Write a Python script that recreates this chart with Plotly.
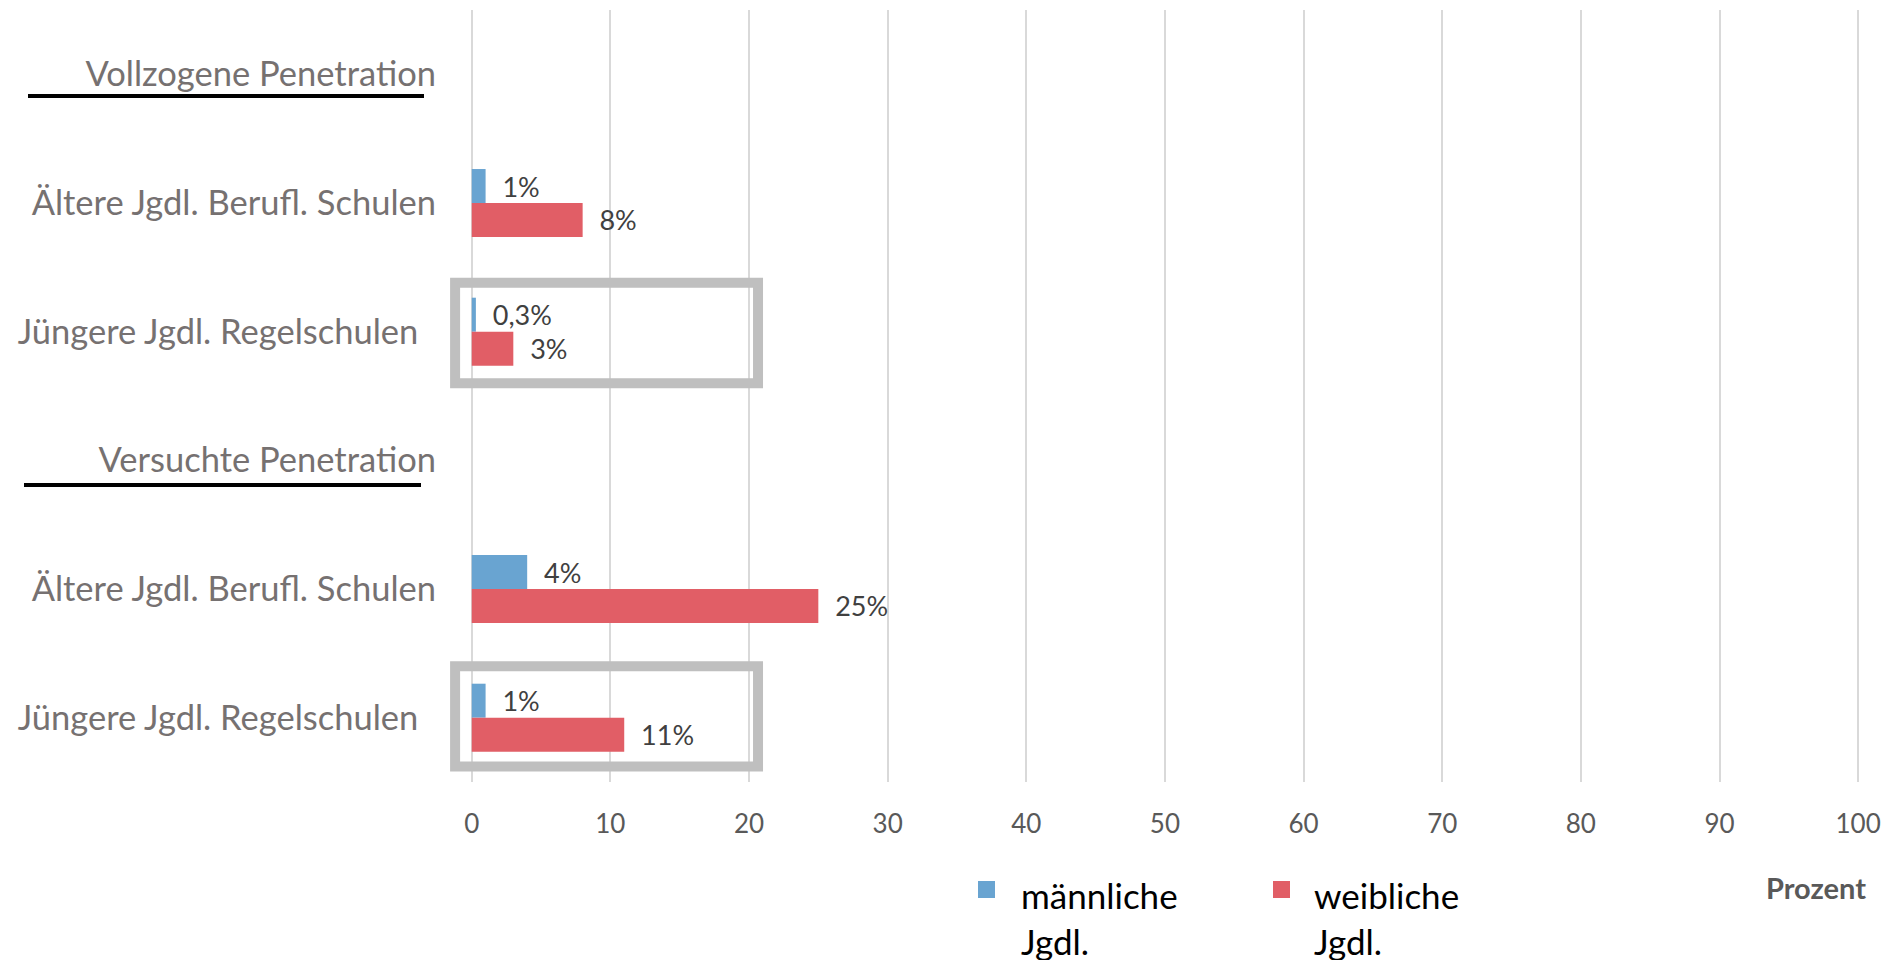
import plotly.graph_objects as go

# Row layout (top to bottom): section header, then two school groups per section
row_labels = [
    "Vollzogene Penetration",
    "Ältere Jgdl. Berufl. Schulen",
    "Jüngere Jgdl. Regelschulen",
    "Versuchte Penetration",
    "Ältere Jgdl. Berufl. Schulen",
    "Jüngere Jgdl. Regelschulen",
]
row_pos = [0, 1, 2, 3, 4, 5]

male_values = [None, 1, 0.3, None, 4, 1]
female_values = [None, 8, 3, None, 25, 11]
male_text = ["", "1%", "0,3%", "", "4%", "1%"]
female_text = ["", "8%", "3%", "", "25%", "11%"]

series_names = ["männliche<br>Jgdl.", "weibliche<br>Jgdl."]
series_colors = ["#69A4D1", "#E15E66"]
x_ticks = [0, 10, 20, 30, 40, 50, 60, 70, 80, 90, 100]
x_title = "Prozent"

FONT = "Lato, 'Open Sans', sans-serif"
NB = "\u00a0"

W, H = 1901, 960
ML, MR, MT, MB = 444, 29, 10, 178
PW, PH = W - ML - MR, H - MT - MB


def px(x):
    return (x - ML) / PW


def py(y):
    return (H - MB - y) / PH


def pad(labels):
    return [(NB * 2 + t) if t else "" for t in labels]


fig = go.Figure()
for vals, txt, color in [(male_values, male_text, series_colors[0]),
                         (female_values, female_text, series_colors[1])]:
    fig.add_trace(go.Bar(
        x=vals, y=row_pos, orientation="h",
        marker=dict(color=color, line=dict(width=0)),
        text=pad(txt), textposition="outside", cliponaxis=False,
        constraintext="none",
        textfont=dict(family=FONT, size=27, color="#404040"),
        showlegend=False, hoverinfo="skip",
    ))

# tick labels; the younger-pupil rows sit slightly further from the axis
tick_text = [lbl + (NB * 2 if lbl.startswith("Jüngere") else "") for lbl in row_labels]

shapes = []
# underline beneath each section header
for x0, x1, y in [(28, 424, 96), (24, 421, 485)]:
    shapes.append(dict(type="line", xref="paper", yref="paper",
                       x0=px(x0), x1=px(x1), y0=py(y), y1=py(y),
                       line=dict(color="black", width=4)))
# grey frames around the younger-pupil rows
for y0, y1 in [(1.62, 2.40), (4.60, 5.38)]:
    shapes.append(dict(type="rect", xref="x", yref="y",
                       x0=-1.2, x1=20.65, y0=y0, y1=y1,
                       line=dict(color="#BFBFBF", width=10),
                       fillcolor="rgba(0,0,0,0)", layer="above"))

annotations = []
# legend: coloured squares with two-line names
for (sx, tx), name, color in zip([(978, 1019), (1273, 1312)], series_names, series_colors):
    shapes.append(dict(type="rect", xref="paper", yref="paper",
                       x0=px(sx), x1=px(sx + 17), y0=py(881), y1=py(898),
                       line=dict(width=0), fillcolor=color))
    annotations.append(dict(xref="paper", yref="paper", x=px(tx), y=py(872),
                            xanchor="left", yanchor="top", align="left",
                            showarrow=False, text=name,
                            font=dict(family=FONT, size=35, color="#000000")))

annotations.append(dict(xref="paper", yref="paper", x=px(1868), y=py(887),
                        xanchor="right", yanchor="middle", showarrow=False,
                        text="<b>" + x_title + "</b>",
                        font=dict(family=FONT, size=29, color="#595959")))

fig.update_layout(
    width=W, height=H, autosize=False,
    margin=dict(l=ML, r=MR, t=MT, b=MB, pad=0),
    paper_bgcolor="white", plot_bgcolor="white",
    barmode="group", bargap=0.472, bargroupgap=0,
    shapes=shapes, annotations=annotations,
    showlegend=False,
    xaxis=dict(range=[-2, 101], tickvals=x_ticks, showgrid=True,
               gridcolor="#D9D9D9", gridwidth=1.5, zeroline=False,
               showline=False, ticks="", ticklabelstandoff=24,
               tickfont=dict(family=FONT, size=26, color="#595959")),
    yaxis=dict(range=[5.5, -0.5], tickvals=row_pos, ticktext=tick_text,
               showgrid=False, zeroline=False, showline=False, ticks="",
               ticklabelstandoff=7,
               tickfont=dict(family=FONT, size=34.5, color="#767171")),
)

fig.write_html("out.html")
